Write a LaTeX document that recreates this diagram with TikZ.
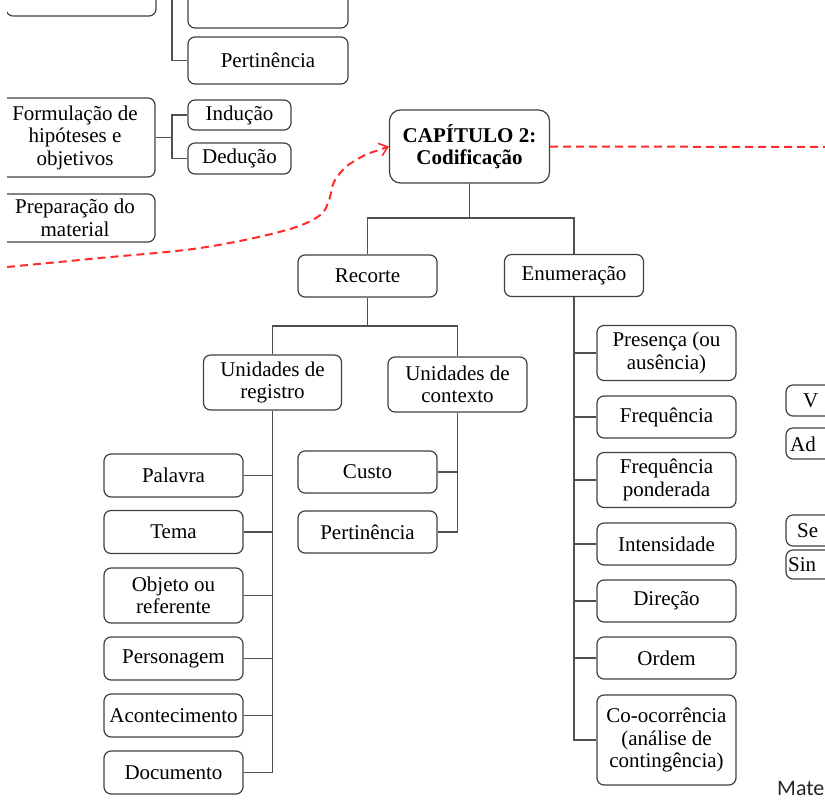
\documentclass[tikz,border=0pt]{standalone}
\usepackage{fontspec}
\setmainfont{Liberation Serif}
\newfontfamily\calibrifont{Carlito}
\usetikzlibrary{arrows.meta}
\definecolor{boxline}{HTML}{404040}
\definecolor{connline}{HTML}{505050}
\definecolor{redline}{HTML}{FF2A2A}
\begin{document}
\begin{tikzpicture}[x=1pt,y=-1pt,
  box/.style={draw=boxline, line width=1.2pt, rounded corners=7pt, align=center,
    inner sep=0pt, text=black, font=\fontsize{21}{22.5}\selectfont},
  bw/.style={minimum width=139pt},
  conn/.style={draw=connline, line width=1.3pt},
  reddash/.style={draw=redline, line width=2pt, dash pattern=on 8pt off 5pt},
  edgetext/.style={anchor=west, inner sep=0pt, text=black, font=\fontsize{21}{22.5}\selectfont}]
\useasboundingbox (0,0) rectangle (825,801);
\clip (7,0) rectangle (825,801);

% top-left partial boxes
\node[box, minimum width=150pt, minimum height=52pt] (topa) at (81,-10) {};
\node[box, minimum width=160pt, minimum height=56pt] (topb) at (268,0) {};
\node[box, minimum width=160pt, minimum height=47pt] (pert1) at (268,60.5) {Pertinência};
\coordinate (topend) at (172,-5);
\draw[conn] (pert1.west) -| (topend);

\node[box, minimum width=160pt, minimum height=79pt] (formul) at (75,137.5) {Formulação de\\hipóteses e\\objetivos};
\node[box, minimum width=103pt, minimum height=30pt] (induc) at (239.5,115) {Indução};
\node[box, minimum width=103pt, minimum height=31pt] (deduc) at (239.5,158.5) {Dedução};
\node[box, minimum width=160pt, minimum height=48pt] (prep) at (75,218) {Preparação do\\material};
\coordinate (j3) at (172,137.5);
\draw[conn] (formul.east) -- (j3);
\draw[conn] (induc.west) -| (j3) |- (deduc.west);

% main tree
\node[box, rounded corners=11pt, minimum width=160pt, minimum height=73pt, font=\fontsize{21}{22}\selectfont\bfseries] (cap) at (469.5,146.5) {CAPÍTULO 2:\\Codificação};
\node[box, bw, minimum height=42pt] (recorte) at (367.5,276) {Recorte};
\node[box, bw, minimum height=42pt] (enum) at (574,275.5) {Enumeração};
\node[box, minimum width=138pt, minimum height=55pt] (ureg) at (272.5,382.5) {Unidades de\\registro};
\node[box, bw, minimum height=55pt] (uctx) at (457.5,384.5) {Unidades de\\contexto};

\node[box, bw, minimum height=43pt] (palavra) at (173.5,475.5) {Palavra};
\node[box, bw, minimum height=43pt] (tema) at (173.5,532) {Tema};
\node[box, bw, minimum height=55pt] (objeto) at (173.5,595.5) {Objeto ou\\referente};
\node[box, bw, minimum height=43pt] (person) at (173.5,658.5) {Personagem};
\node[box, bw, minimum height=43pt] (acont) at (173.5,715.5) {Acontecimento};
\node[box, bw, minimum height=43pt] (docum) at (173.5,772.5) {Documento};

\node[box, bw, minimum height=42pt] (custo) at (367.5,472) {Custo};
\node[box, bw, minimum height=42pt] (pert2) at (367.5,532) {Pertinência};

\node[box, bw, minimum height=55pt] (pres) at (666.5,353) {Presença (ou\\ausência)};
\node[box, bw, minimum height=42pt] (freq) at (666.5,417) {Frequência};
\node[box, bw, minimum height=55pt] (freqp) at (666.5,480) {Frequência\\ponderada};
\node[box, bw, minimum height=42pt] (inten) at (666.5,544) {Intensidade};
\node[box, bw, minimum height=42pt] (direc) at (666.5,601) {Direção};
\node[box, bw, minimum height=42pt] (ordem) at (666.5,658) {Ordem};
\node[box, bw, minimum height=90pt] (cooc) at (666.5,740) {Co-ocorrência\\(análise de\\contingência)};

\coordinate (j1) at (469.5,218);
\draw[conn] (cap.south) -- (j1);
\draw[conn] (recorte.north) |- (j1) -| (enum.north);
\coordinate (j2) at (367.5,326);
\draw[conn] (recorte.south) -- (j2);
\draw[conn] (ureg.north) |- (j2) -| (uctx.north);

\draw[conn] (ureg.south) |- (docum.east);
\foreach \n in {palavra,tema,objeto,person,acont}
  \draw[conn] (\n.east) -- (\n.east -| ureg.south);
\draw[conn] (uctx.south) |- (pert2.east);
\draw[conn] (custo.east) -- (custo.east -| uctx.south);
\draw[conn] (enum.south) |- (cooc.west);
\foreach \n in {pres,freq,freqp,inten,direc,ordem}
  \draw[conn] (\n.west) -- (\n.west -| enum.south);

% right partial boxes
\node[box, minimum width=100pt, minimum height=31pt] (rv) at (836,400.5) {};
\node[box, minimum width=100pt, minimum height=31pt] (rad) at (836,443.5) {};
\node[box, minimum width=100pt, minimum height=31pt] (rse) at (836,530.5) {};
\node[box, minimum width=100pt, minimum height=29pt] (rsin) at (836,564.5) {};
\node[edgetext] (tv) at (803,401) {V};
\node[edgetext] (tad) at (790,444) {Ad};
\node[edgetext] (tse) at (797,531) {Se};
\node[edgetext] (tsin) at (788,565) {Sin};

\node[anchor=base west, inner sep=0pt, font=\calibrifont\fontsize{22}{24}\selectfont, text=black!85] (mate) at (777,795) {Mate};

% red dashed connectors
\coordinate (rstart) at (7,267);
\coordinate (rend) at (830,147);
\draw[reddash, -{Straight Barb[length=8pt,width=13pt,line width=1.6pt]}]
  plot[smooth, tension=0.6] coordinates {(rstart) (100,258) (200,248) (283,231) (319,216) (329,200) (334,182) (347,166) (367,154)} -- (cap.west);
\draw[reddash] (cap.east) -- (rend);
\end{tikzpicture}
\end{document}
